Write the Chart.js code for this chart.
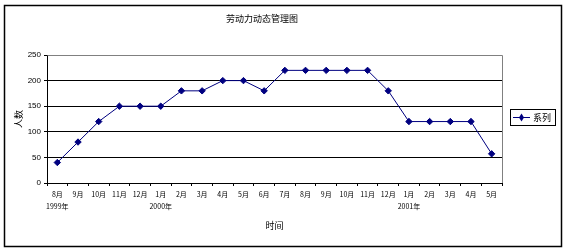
<!DOCTYPE html>
<html>
<head>
<meta charset="utf-8">
<script src="https://cdn.jsdelivr.net/npm/chart.js@4/dist/chart.umd.min.js"></script>
<style>
html,body{margin:0;padding:0;background:#fff;}
#wrap{width:567px;height:252px;position:relative;}
</style>
</head>
<body>
<div id="wrap"><canvas id="c" width="567" height="252"></canvas></div>
<script>
const months = ['8月','9月','10月','11月','12月','1月','2月','3月','4月','5月','6月','7月','8月','9月','10月','11月','12月','1月','2月','3月','4月','5月'];
const years = ['1999年','','','','','2000年','','','','','','','','','','','','2001年','','','',''];
const values = [40,80,120,150,150,150,180,180,200,200,180,220,220,220,220,220,180,120,120,120,120,57];
const seriesName = '系列';
const chartTitle = '劳动力动态管理图';
const xTitle = '时间';
const yTitle = '人数';
const yTicks = [0,50,100,150,200,250];

const labels = months.map((m,i)=> years[i] ? [m, years[i]] : [m]);
const navy = '#000080';
const cjk = '"Noto Sans CJK SC", "Liberation Sans", sans-serif';

const framePlugin = {
  id:'frame',
  beforeDraw(chart){
    const ctx = chart.ctx;
    ctx.save();
    ctx.fillStyle = '#fff';
    ctx.fillRect(0,0,chart.width,chart.height);
    ctx.restore();
  },
  afterDraw(chart){
    const ctx = chart.ctx;
    const a = chart.chartArea;
    ctx.save();
    ctx.strokeStyle = '#000';
    ctx.lineWidth = 1.5;
    ctx.strokeRect(4.5,5.5,557,241);
    ctx.strokeStyle = '#808080';
    ctx.lineWidth = 1;
    ctx.beginPath();
    ctx.moveTo(Math.round(a.left)+0.5, Math.round(a.top)+0.5);
    ctx.lineTo(Math.round(a.right)+0.5, Math.round(a.top)+0.5);
    ctx.lineTo(Math.round(a.right)+0.5, Math.round(a.bottom));
    ctx.stroke();
    ctx.fillStyle = '#000';
    ctx.font = '9px ' + cjk;
    ctx.textAlign = 'center';
    ctx.textBaseline = 'middle';
    ctx.fillText(chartTitle, 262, 19);
    const ds = chart.data.datasets[0];
    ctx.strokeStyle = '#000';
    ctx.lineWidth = 1;
    ctx.strokeRect(510.5,109.5,45,16);
    ctx.strokeStyle = ds.borderColor;
    ctx.beginPath();
    ctx.moveTo(513,117.5);
    ctx.lineTo(530,117.5);
    ctx.stroke();
    ctx.fillStyle = ds.pointBackgroundColor;
    ctx.beginPath();
    ctx.moveTo(521.5,113.5);
    ctx.lineTo(524,117.5);
    ctx.lineTo(521.5,121.5);
    ctx.lineTo(519,117.5);
    ctx.closePath();
    ctx.fill();
    ctx.fillStyle = '#000';
    ctx.font = '9px ' + cjk;
    ctx.textAlign = 'left';
    ctx.fillText(ds.label, 533, 117.5);
    ctx.restore();
  }
};

new Chart(document.getElementById('c'), {
  type:'line',
  data:{
    labels: labels,
    datasets:[{
      label: seriesName,
      data: values,
      borderColor: navy,
      backgroundColor: navy,
      pointBackgroundColor: navy,
      pointBorderColor: navy,
      pointStyle: 'rectRot',
      pointRadius: 3.2,
      pointBorderWidth: 1,
      borderWidth: 1,
      tension: 0,
      fill: false
    }]
  },
  options:{
    responsive:false,
    animation:false,
    devicePixelRatio:1,
    layout:{padding:{left:0,right:65,top:55,bottom:0}},
    plugins:{legend:{display:false},title:{display:false},tooltip:{enabled:false}},
    scales:{
      x:{
        type:'category',
        offset:true,
        afterFit(s){ s.height = 69; },
        grid:{display:true, drawOnChartArea:false, offset:true, tickLength:3, color:'#000', tickColor:'#000'},
        border:{display:true, color:'#000', width:1},
        ticks:{color:'#000', font:{size:7, family:cjk, lineHeight:1.7}, padding:2, maxRotation:0, autoSkip:false},
        title:{display:true, text:xTitle, color:'#000', font:{size:9, family:cjk, lineHeight:1.2}, padding:{top:0,bottom:21}}
      },
      y:{
        min:0, max:250,
        afterFit(s){ s.width = 47; },
        afterBuildTicks(s){ s.ticks = yTicks.map(v=>({value:v})); },
        grid:{color:(c)=> c.tick && c.tick.value===250 ? '#808080' : '#000', tickLength:3, tickColor:'#000', lineWidth:1},
        border:{display:true, color:'#000', width:1},
        ticks:{color:'#000', font:{size:8, family:'"Liberation Sans", Arial, sans-serif'}, padding:3},
        title:{display:true, text:yTitle, color:'#000', font:{size:9, family:cjk, lineHeight:1.2}, padding:{top:13,bottom:0}}
      }
    }
  },
  plugins:[framePlugin]
});
</script>
</body>
</html>
